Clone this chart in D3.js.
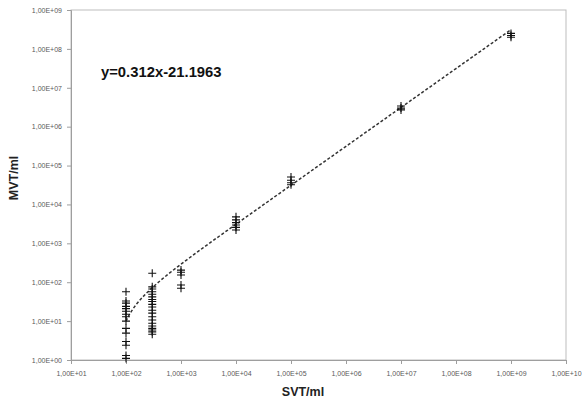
<!DOCTYPE html>
<html>
<head>
<meta charset="utf-8">
<script src="https://cdn.jsdelivr.net/npm/d3@7"></script>
<style>
  body { margin: 0; background: #fff; }
  svg { display: block; }
  .tick text { font-family: "Liberation Sans", Arial, sans-serif; font-size: 7px; fill: #595959; }
</style>
</head>
<body>
<svg id="chart"></svg>
<script>
let width = 584;
let height = 403;

// measured points, grouped by SVT/ml
let svtLevels = [100, 300, 1000, 10000, 100000, 10000000, 1000000000];
let mvt100 = [57, 33, 29, 24, 21, 18, 15, 13, 10, 6.5, 4.9, 3, 2.4, 1.3, 1.1];
let mvt300 = [170, 76, 67, 57, 49, 42, 36, 32, 27, 23, 19, 16, 13, 10.7, 8.8, 7.5, 6.5, 5.9, 5.3, 4.6];
let mvt1e3 = [205, 180, 154, 85, 70];
let mvt1e4 = [4800, 4000, 3400, 2950, 2580, 2200];
let mvt1e5 = [51000, 42000, 36000, 32000];
let mvt1e7 = [3400000, 3000000, 2700000];
let mvt1e9 = [250000000, 220000000, 200000000];
let mvtGroups = [mvt100, mvt300, mvt1e3, mvt1e4, mvt1e5, mvt1e7, mvt1e9];

let xTicks = [1e1, 1e2, 1e3, 1e4, 1e5, 1e6, 1e7, 1e8, 1e9, 1e10];
let yTicks = [1e0, 1e1, 1e2, 1e3, 1e4, 1e5, 1e6, 1e7, 1e8, 1e9];

// linear trendline from the chart
let slope = 0.312;
let intercept = -21.1963;

let points = [];
svtLevels.forEach((s, i) => mvtGroups[i].forEach(v => points.push({x: s, y: v})));

let margin = {left: 71, right: 18, top: 10, bottom: 43};

let svg = d3.select('#chart')
    .attr('width', width)
    .attr('height', height);

let x = d3.scaleLog()
    .domain([1e1, 1e10])
    .range([margin.left, width - margin.right]);

let y = d3.scaleLog()
    .domain([1e0, 1e9])
    .range([height - margin.bottom, margin.top]);

let fmt = d => '1,00E+' + String(Math.round(Math.log10(d))).padStart(2, '0');

// plot frame
svg.append('rect')
    .attr('x', x.range()[0])
    .attr('y', y.range()[1])
    .attr('width', x.range()[1] - x.range()[0])
    .attr('height', y.range()[0] - y.range()[1])
    .attr('fill', 'none')
    .attr('stroke', '#bdbdbd')
    .attr('stroke-width', 1);

let xAxis = svg.append('g')
    .attr('transform', `translate(0,${y.range()[0]})`)
    .call(d3.axisBottom(x).tickValues(xTicks).tickFormat(fmt).tickSize(4).tickPadding(7));

let yAxis = svg.append('g')
    .attr('transform', `translate(${x.range()[0]},0)`)
    .call(d3.axisLeft(y).tickValues(yTicks).tickFormat(fmt).tickSize(4).tickPadding(5));

[xAxis, yAxis].forEach(a => {
    a.select('.domain').attr('stroke', '#9e9e9e');
    a.selectAll('.tick line').attr('stroke', '#9e9e9e');
});

// trendline y = 0.312x - 21.1963, sampled along the log axis
let trend = d3.range(0, 141).map(i => {
    let sx = Math.pow(10, 2 + i * 7 / 140);
    return {x: sx, y: slope * sx + intercept};
});

svg.append('path')
    .datum(trend)
    .attr('fill', 'none')
    .attr('stroke', '#333')
    .attr('stroke-width', 1.5)
    .attr('stroke-dasharray', '3,2')
    .attr('d', d3.line().x(d => x(d.x)).y(d => y(d.y)));

// plus markers
let s = 4;
svg.append('g')
    .selectAll('path')
    .data(points)
    .join('path')
    .attr('fill', 'none')
    .attr('stroke', '#111')
    .attr('stroke-width', 1.1)
    .attr('d', d => {
        let px = x(d.x), py = y(d.y);
        return `M${px - s},${py}H${px + s}M${px},${py - s}V${py + s}`;
    });

svg.append('text')
    .attr('x', 101)
    .attr('y', 77)
    .attr('font-family', '"Liberation Sans", Arial, sans-serif')
    .attr('font-weight', 'bold')
    .attr('font-size', 14.8)
    .attr('fill', '#111')
    .text(`y=${slope}x${intercept}`);

svg.append('text')
    .attr('x', 303)
    .attr('y', 396)
    .attr('text-anchor', 'middle')
    .attr('font-family', '"Liberation Sans", Arial, sans-serif')
    .attr('font-weight', 'bold')
    .attr('font-size', 12.5)
    .attr('fill', '#222')
    .text('SVT/ml');

svg.append('text')
    .attr('transform', 'translate(18,178) rotate(-90)')
    .attr('text-anchor', 'middle')
    .attr('font-family', '"Liberation Sans", Arial, sans-serif')
    .attr('font-weight', 'bold')
    .attr('font-size', 12.5)
    .attr('fill', '#222')
    .text('MVT/ml');
</script>
</body>
</html>
